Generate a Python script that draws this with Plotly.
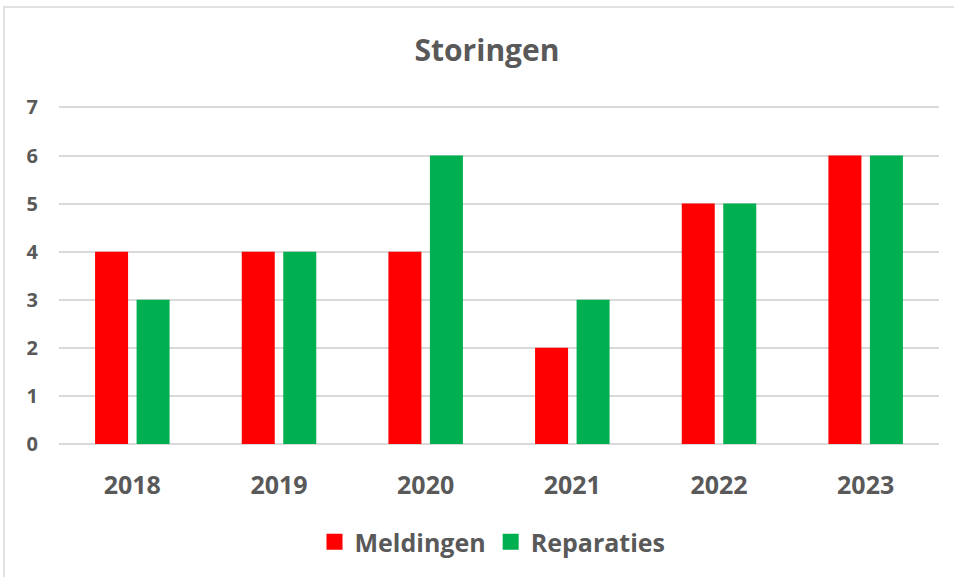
import plotly.graph_objects as go

years = ["2018", "2019", "2020", "2021", "2022", "2023"]
meldingen = [4, 4, 4, 2, 5, 6]
reparaties = [3, 4, 6, 3, 5, 6]
y_ticks = [0, 1, 2, 3, 4, 5, 6, 7]

RED = "#FF0000"
GREEN = "#00B050"
TXT = "#595959"
FONT = "Open Sans"

fig = go.Figure()
fig.add_trace(go.Bar(x=years, y=meldingen, name="Meldingen", marker_color=RED,
                     marker_line_width=0, showlegend=False))
fig.add_trace(go.Bar(x=years, y=reparaties, name="Reparaties", marker_color=GREEN,
                     marker_line_width=0, showlegend=False))
# legend entries with larger square markers
fig.add_trace(go.Scatter(x=[None], y=[None], mode="markers", name="Meldingen",
                         marker=dict(symbol="square", size=17, color=RED)))
fig.add_trace(go.Scatter(x=[None], y=[None], mode="markers", name="Reparaties",
                         marker=dict(symbol="square", size=17, color=GREEN)))

YMAX = 7.03
L, R, B = 59, 15, 133
W, H = 954, 577
ph = 337 * YMAX / 7
T = int(round(H - B - ph))
ph = H - B - T
pw = W - L - R

fig.update_layout(
    width=W, height=H,
    margin=dict(l=L, r=R, t=T, b=B),
    paper_bgcolor="white", plot_bgcolor="white",
    barmode="group", bargap=0.434, bargroupgap=0.205,
    font=dict(family=FONT, color=TXT),
    title=dict(text="<b>Storingen</b>", x=487 / W, xref="container", xanchor="center",
               y=1 - 50 / H, yref="container", yanchor="middle",
               font=dict(size=30, color=TXT, family=FONT)),
    legend=dict(orientation="h", x=(492.5 - L) / pw, xanchor="center",
                y=(H - B - 542) / ph, yanchor="middle",
                font=dict(size=25, color=TXT, family=FONT, weight="bold"),
                itemsizing="trace", bgcolor="rgba(0,0,0,0)"),
    xaxis=dict(showgrid=False, showline=False, zeroline=False,
               tickfont=dict(size=25, color=TXT, family=FONT, weight="bold"),
               ticklabelstandoff=24, ticks=""),
    yaxis=dict(range=[0, YMAX], tickvals=y_ticks, showgrid=True, gridcolor="#D9D9D9",
               gridwidth=2, zeroline=True, zerolinecolor="#D9D9D9", zerolinewidth=2,
               showline=False, ticks="",
               tickfont=dict(size=20, color=TXT, family=FONT, weight="bold"),
               ticklabelstandoff=20),
    shapes=[dict(type="rect", xref="paper", yref="paper",
                 x0=(4 - L) / pw, x1=(W + 5 - L) / pw,
                 y0=(H - B - (H + 5)) / ph, y1=(H - B - 7) / ph,
                 line=dict(color="#D9D9D9", width=1.5), fillcolor="rgba(0,0,0,0)",
                 layer="below")],
)

fig.write_html("out.html", config={"displayModeBar": False},
               post_script="document.body.style.margin='0';document.body.style.overflow='hidden';")
